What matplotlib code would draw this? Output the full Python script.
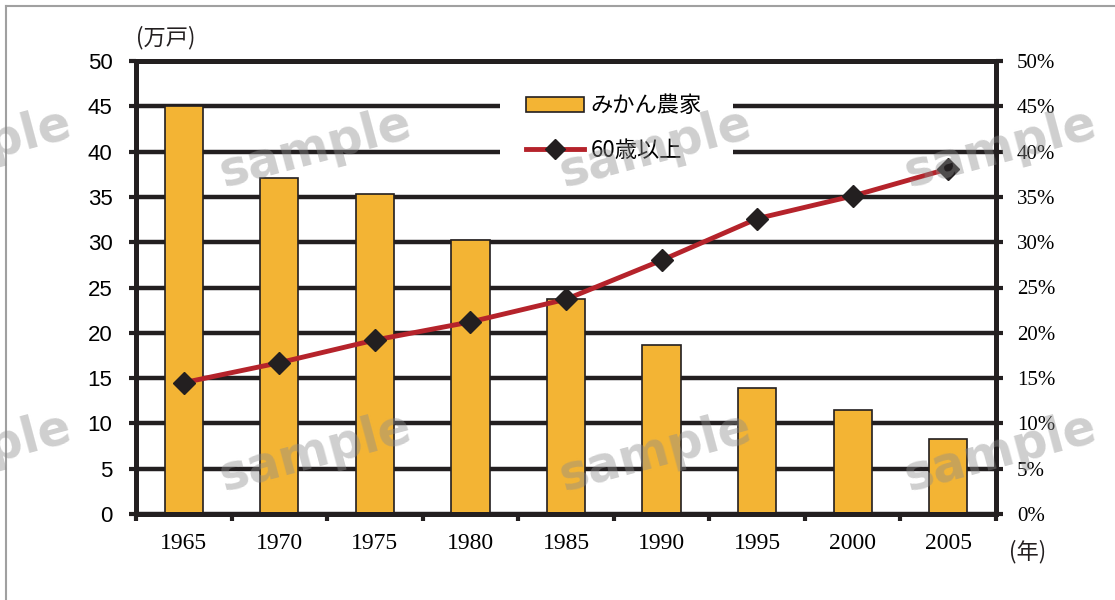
import matplotlib
matplotlib.use("Agg")
import matplotlib.pyplot as plt
from matplotlib.patches import Rectangle
from matplotlib.lines import Line2D
import numpy as np

# Data
years = ["1965", "1970", "1975", "1980", "1985", "1990", "1995", "2000", "2005"]
mikan_farms = [45.0, 37.1, 35.3, 30.2, 23.7, 18.7, 13.9, 11.5, 8.3]      # 万戸
share_over_60 = [14.5, 16.7, 19.2, 21.2, 23.7, 28.0, 32.6, 35.1, 38.1]  # %
left_ticks = [0, 5, 10, 15, 20, 25, 30, 35, 40, 45, 50]
right_ticks = [0, 5, 10, 15, 20, 25, 30, 35, 40, 45, 50]
right_labels = [f"{v}%" for v in right_ticks]

INK = "#231f20"
BAR = "#f3b434"
RED = "#b5232b"
CJK = ["Noto Sans CJK JP", "DejaVu Sans"]
SERIF = "Liberation Serif"
SANS = "Liberation Sans"

W, H = 1115, 600
fig = plt.figure(figsize=(W / 100, H / 100), dpi=100)
fig.patch.set_facecolor("white")

def fx(px):
    return px / W

def fy(py):
    return 1 - py / H

ax = fig.add_axes([fx(136), fy(514), fx(996) - fx(136), fy(61) - fy(514)])
x = np.arange(len(years))

ax.bar(x, mikan_farms, width=0.4, color=BAR, edgecolor=INK, linewidth=1.2,
       zorder=2, label="みかん農家")
ax.set_xlim(-0.5, len(years) - 0.5)
ax.set_ylim(0, 50)

# heavy horizontal rules
ax.set_yticks(left_ticks)
ax.set_yticklabels([str(v) for v in left_ticks], family=SANS, fontsize=16)
ax.yaxis.grid(True, color=INK, linewidth=3.2)
ax.set_axisbelow(True)
ax.tick_params(axis="y", length=5, width=3, color=INK, pad=12)

# year labels centred under bars, tick marks between categories
ax.set_xticks(x)
ax.set_xticklabels(years, family=SERIF, fontsize=17)
ax.tick_params(axis="x", which="major", length=0, pad=14)
ax.set_xticks(np.arange(-0.5, len(years), 1.0), minor=True)
ax.tick_params(axis="x", which="minor", length=5, width=3, color=INK)

for side in ["left", "right", "bottom", "top"]:
    ax.spines[side].set_linewidth(3.5)
    ax.spines[side].set_color(INK)

# secondary axis: share of farmers aged 60 and over
ax2 = ax.twinx()
ax2.plot(x, share_over_60, color=RED, linewidth=3.5, marker="D", markersize=11,
         markerfacecolor=INK, markeredgecolor=INK, zorder=5, label="60歳以上")
ax2.set_ylim(0, 50)
ax2.set_yticks(right_ticks)
ax2.set_yticklabels(right_labels, family=SERIF, fontsize=15)
ax2.tick_params(axis="y", length=5, width=3, color=INK, pad=10)
for side in ["left", "right", "bottom", "top"]:
    ax2.spines[side].set_linewidth(3.5)
    ax2.spines[side].set_color(INK)

# white panel behind the legend
ax.add_patch(Rectangle((fx(500), fy(172)), fx(733) - fx(500), fy(80) - fy(172),
                       transform=fig.transFigure, facecolor="white",
                       edgecolor="none", zorder=1))

handles = [Rectangle((0, 0), 1, 1, facecolor=BAR, edgecolor=INK, linewidth=1.2),
           Line2D([], [], color=RED, linewidth=3.5, marker="D", markersize=10,
                  markerfacecolor=INK, markeredgecolor=INK)]
leg = ax2.legend(handles, ["みかん農家", "60歳以上"], loc="center",
                 bbox_to_anchor=(fx(614), fy(128)), bbox_transform=fig.transFigure,
                 frameon=False, prop={"family": CJK, "size": 16},
                 handlelength=2.6, handletextpad=0.3, labelspacing=0.95)

# unit captions
fig.text(fx(136), fy(38), "(万戸)", family=CJK, fontsize=16, ha="left", va="center",
         color=INK)
fig.text(fx(1009), fy(552), "(年)", family=CJK, fontsize=16, ha="left", va="center",
         color=INK)

# watermark
for cx in (-25, 315, 655, 1000):
    for cy in (148, 452):
        fig.text(fx(cx), fy(cy), "sample", fontsize=35, fontweight="bold",
                 family="DejaVu Sans", color="#8c8c8c", alpha=0.42, rotation=15,
                 ha="center", va="center", zorder=20)

# outer frame lines
fig.add_artist(Line2D([fx(6), 1], [fy(6), fy(6)], transform=fig.transFigure,
                      color="#a0a0a0", linewidth=1.5))
fig.add_artist(Line2D([fx(6), fx(6)], [fy(6), 0], transform=fig.transFigure,
                      color="#a0a0a0", linewidth=1.5))

fig.savefig("out.png", dpi=100)
